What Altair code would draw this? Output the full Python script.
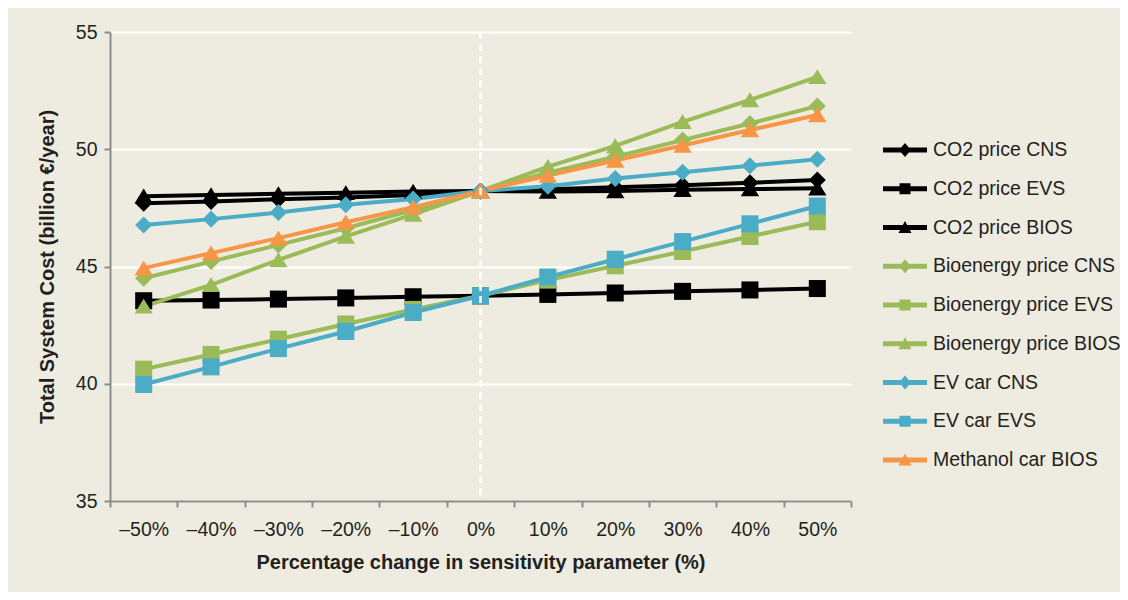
import altair as alt
import pandas as pd

categories = ["–50%", "–40%", "–30%", "–20%", "–10%", "0%", "10%", "20%", "30%", "40%", "50%"]

series_names = [
    "CO2 price CNS", "CO2 price EVS", "CO2 price BIOS",
    "Bioenergy price CNS", "Bioenergy price EVS", "Bioenergy price BIOS",
    "EV car CNS", "EV car EVS", "Methanol car BIOS",
]

co2_cns = [47.70, 47.77, 47.87, 47.94, 48.05, 48.22, 48.29, 48.38, 48.47, 48.57, 48.69]
co2_evs = [43.54, 43.57, 43.61, 43.66, 43.71, 43.75, 43.81, 43.87, 43.94, 44.00, 44.06]
co2_bios = [48.00, 48.05, 48.10, 48.14, 48.20, 48.22, 48.20, 48.22, 48.27, 48.30, 48.34]
bio_cns = [44.50, 45.21, 45.92, 46.63, 47.41, 48.22, 49.00, 49.68, 50.39, 51.10, 51.84]
bio_evs = [40.62, 41.25, 41.90, 42.55, 43.17, 43.75, 44.42, 45.03, 45.64, 46.28, 46.91]
bio_bios = [43.30, 44.22, 45.28, 46.28, 47.22, 48.22, 49.26, 50.14, 51.17, 52.10, 53.09]
ev_cns = [46.77, 47.02, 47.30, 47.63, 47.88, 48.22, 48.42, 48.75, 49.02, 49.30, 49.57]
ev_evs = [39.97, 40.72, 41.50, 42.23, 43.04, 43.75, 44.55, 45.31, 46.06, 46.82, 47.58]
meth_bios = [44.93, 45.57, 46.21, 46.89, 47.53, 48.22, 48.88, 49.52, 50.16, 50.82, 51.46]

series_values = [co2_cns, co2_evs, co2_bios, bio_cns, bio_evs, bio_bios, ev_cns, ev_evs, meth_bios]

BLACK, GREEN, BLUE, ORANGE = "#000000", "#9BBB59", "#4BACC6", "#F79646"
series_colors = [BLACK, BLACK, BLACK, GREEN, GREEN, GREEN, BLUE, BLUE, ORANGE]

TRI = "M0,-0.9L1.08,0.85L-1.08,0.85Z"
series_shapes = ["diamond", "square", TRI, "diamond", "square", TRI, "diamond", "square", TRI]

BAR = "M-2.2,-0.24L2.2,-0.24L2.2,0.24L-2.2,0.24Z"
LEG_DIA = BAR + " M0,-0.7L0.6,0L0,0.7L-0.6,0Z"
LEG_SQ = BAR + " M-0.55,-0.55L0.55,-0.55L0.55,0.55L-0.55,0.55Z"
LEG_TRI = BAR + " M0,-0.65L0.65,0.55L-0.65,0.55Z"
legend_shapes = [LEG_DIA, LEG_SQ, LEG_TRI, LEG_DIA, LEG_SQ, LEG_TRI, LEG_DIA, LEG_SQ, LEG_TRI]

rows = []
for name, vals in zip(series_names, series_values):
    for i, (c, v) in enumerate(zip(categories, vals)):
        rows.append({"series": name, "pct": c, "idx": i, "value": v})
df = pd.DataFrame(rows)

FONT = "Liberation Sans"
TXT = "#231F20"
AXC = "#8C8C8C"

x_enc = alt.X(
    "pct:O",
    bandPosition=0.5,
    scale=alt.Scale(type="band", domain=categories, paddingInner=0, paddingOuter=0),
    axis=alt.Axis(
        title="Percentage change in sensitivity parameter (%)",
        labelAngle=0, tickBand="extent", grid=False,
        domainColor=AXC, domainWidth=2, tickColor=AXC, tickWidth=2, tickSize=6,
        labelFont=FONT, labelFontSize=19.5, labelColor=TXT, labelPadding=13,
        titleFont=FONT, titleFontSize=20, titleFontWeight="bold", titleColor=TXT,
        titlePadding=14, zindex=1,
    ),
)
y_enc = alt.Y(
    "value:Q",
    scale=alt.Scale(domain=[35, 55], nice=False, zero=False),
    axis=alt.Axis(
        title="Total System Cost (billion €/year)",
        values=[35, 40, 45, 50, 55], grid=True, gridColor="white", gridWidth=2,
        domainColor=AXC, domainWidth=2, tickColor=AXC, tickWidth=2, tickSize=6,
        labelFont=FONT, labelFontSize=19.5, labelColor=TXT, labelPadding=7,
        titleFont=FONT, titleFontSize=20, titleFontWeight="bold", titleColor=TXT,
        titlePadding=18,
    ),
)

color_scale = alt.Scale(domain=series_names, range=series_colors)

lines = alt.Chart(df).mark_line(strokeWidth=4).encode(
    x=x_enc, y=y_enc,
    color=alt.Color("series:N", scale=color_scale, legend=None),
    order=alt.Order("idx:Q"),
)
points = alt.Chart(df).mark_point(filled=True, opacity=1, size=290).encode(
    x=x_enc, y=y_enc,
    color=alt.Color("series:N", scale=color_scale, legend=None),
    shape=alt.Shape("series:N", scale=alt.Scale(domain=series_names, range=series_shapes), legend=None),
)
zero_line = alt.Chart(pd.DataFrame({"pct": ["0%"]})).mark_rule(
    color="white", strokeDash=[7, 5], strokeWidth=2.5
).encode(x=x_enc)

main = alt.layer(lines, points, zero_line)

leg_props = dict(
    title=None, orient="none", legendX=785, legendY=108, padding=0,
    symbolSize=400, symbolStrokeWidth=0, symbolOpacity=1,
    labelFont=FONT, labelFontSize=19.5, labelColor=TXT, labelOffset=18,
    rowPadding=18.75, labelLimit=400,
)
legend_layer = alt.Chart(df).transform_filter("false").mark_point(filled=True, opacity=1).encode(
    color=alt.Color("series:N", scale=alt.Scale(domain=series_names, range=series_colors),
                    legend=alt.Legend(**leg_props)),
    shape=alt.Shape("series:N", scale=alt.Scale(domain=series_names, range=legend_shapes),
                    legend=alt.Legend(**leg_props)),
)

chart = alt.layer(main, legend_layer).resolve_scale(
    color="independent", shape="independent"
).properties(
    width=741, height=469, autosize="none",
    padding={"left": 102, "top": 24, "right": 269, "bottom": 91},
    background="#EEECE1",
).configure_view(stroke=None)

chart.save("out.html", embed_options={"renderer": "svg", "actions": False})
